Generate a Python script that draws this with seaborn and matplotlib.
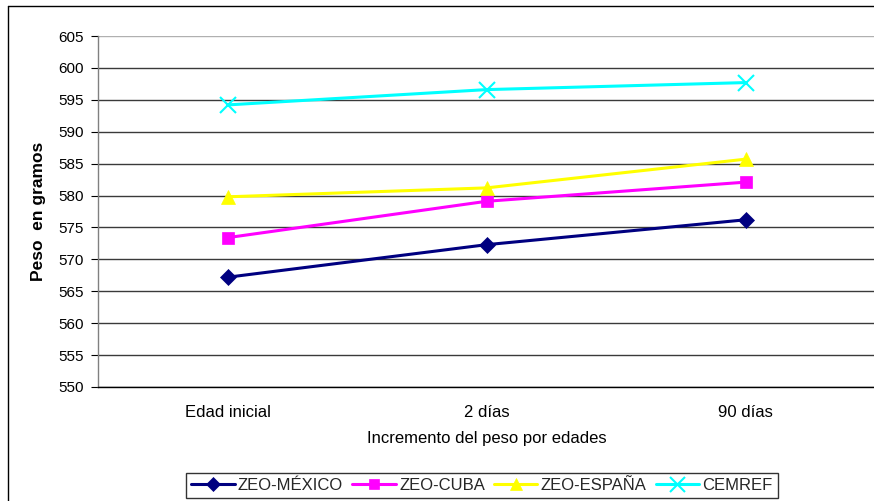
import matplotlib
matplotlib.use("Agg")
import matplotlib.pyplot as plt
import seaborn as sns
import pandas as pd
from matplotlib.lines import Line2D

categories = ["Edad inicial", "2 días", "90 días"]
series_names = ["ZEO-MÉXICO", "ZEO-CUBA", "ZEO-ESPAÑA", "CEMREF"]
mexico = [567.2, 572.3, 576.2]
cuba = [573.4, 579.1, 582.1]
espana = [579.8, 581.2, 585.7]
cemref = [594.2, 596.6, 597.7]
y_ticks = list(range(550, 606, 5))

colors = ["#000080", "#FF00FF", "#FFFF00", "#00FFFF"]
markers = ["D", "s", "^", "x"]
msizes = [8, 8, 10, 12]

rows = []
for name, vals in zip(series_names, [mexico, cuba, espana, cemref]):
    for i, v in enumerate(vals):
        rows.append({"pos": i, "cat": categories[i], "serie": name, "peso": v})
df = pd.DataFrame(rows)

sns.set_theme(style="white")
plt.rcParams["font.family"] = ["Liberation Sans", "DejaVu Sans"]

fig = plt.figure(figsize=(8.74, 5.01), dpi=100)
ax = fig.add_axes([98 / 874, 1 - 387 / 501, 777 / 874, 351 / 501])

for name, c, m, ms in zip(series_names, colors, markers, msizes):
    sub = df[df["serie"] == name]
    sns.lineplot(data=sub, x="pos", y="peso", ax=ax, color=c, linewidth=2.2,
                 marker=m, markersize=ms, markeredgecolor=c,
                 markeredgewidth=1.5 if m == "x" else 0.5, legend=False,
                 zorder=3)

ax.set_xlim(-0.5, 2.5)
ax.set_ylim(550, 605)
ax.set_yticks(y_ticks)
ax.set_yticklabels([str(t) for t in y_ticks], fontsize=11, color="black")
ax.set_xticks([0, 1, 2])
ax.set_xticklabels(categories, fontsize=12, color="black")
ax.set_xticks([0.5, 1.5], minor=True)
ax.tick_params(axis="x", which="major", length=0, pad=13)
ax.tick_params(axis="x", which="minor", length=5, direction="in", color="black", width=0.8)
ax.tick_params(axis="y", which="major", length=5, direction="out", color="black", width=0.8, pad=5, left=True)

ax.grid(False)
for t in y_ticks:
    ax.axhline(t, color="#3a3a3a" if t != 605 else "#b0b0b0", linewidth=1.0, zorder=1)

for s in ["top", "right"]:
    ax.spines[s].set_visible(False)
ax.spines["left"].set_color("#808080")
ax.spines["left"].set_linewidth(1.0)
ax.spines["bottom"].set_color("black")
ax.spines["bottom"].set_linewidth(1.0)

ax.set_xlabel("Incremento del peso por edades", fontsize=12, labelpad=8, color="black")
ax.set_ylabel("Peso  en gramos", fontsize=12.5, fontweight="bold", labelpad=9, color="black")

handles = [Line2D([0], [0], color=c, marker=m, markersize=ms * 0.9, linewidth=2.2,
                  markeredgecolor=c, markeredgewidth=1.5 if m == "x" else 0.5)
           for c, m, ms in zip(colors, markers, msizes)]
leg = fig.legend(handles, series_names, loc="center", bbox_to_anchor=(482 / 874, 1 - 485 / 501),
                 ncol=4, frameon=True, fancybox=False, fontsize=12, handlelength=2.6,
                 handletextpad=0.2, columnspacing=0.55, borderpad=0.3)
leg.get_frame().set_edgecolor("black")
leg.get_frame().set_linewidth(1.0)

# outer chart frame
fig.add_artist(Line2D([8 / 874, 8 / 874], [0, 1 - 6 / 501], transform=fig.transFigure, color="black", linewidth=1.0))
fig.add_artist(Line2D([8 / 874, 1], [1 - 6 / 501, 1 - 6 / 501], transform=fig.transFigure, color="black", linewidth=1.0))

fig.savefig("out.png", dpi=100)
